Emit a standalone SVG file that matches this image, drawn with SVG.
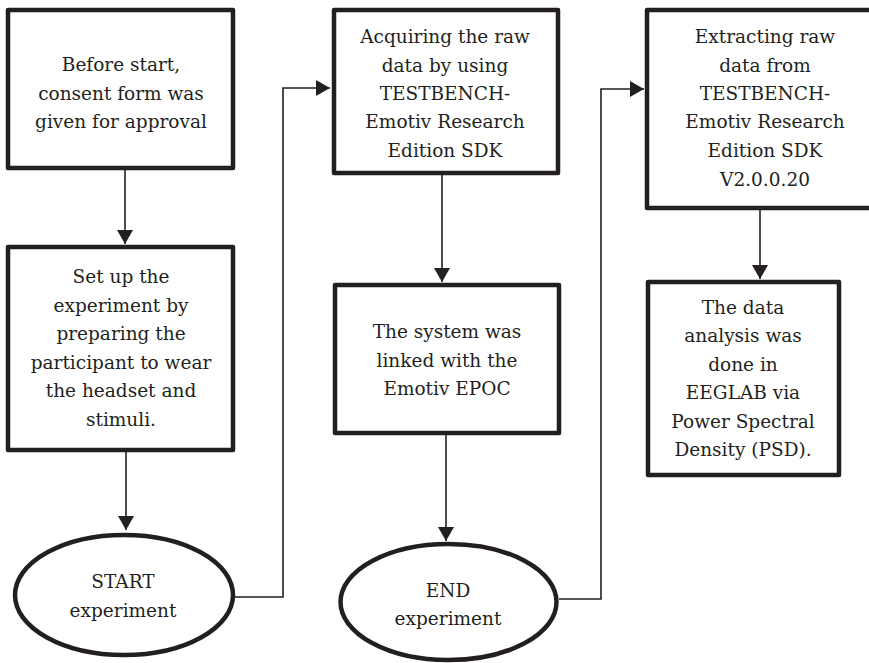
<svg xmlns="http://www.w3.org/2000/svg" width="869" height="663" viewBox="0 0 869 663">
<style>
.box{fill:#fff;stroke:#231f20;stroke-width:4.5;stroke-linejoin:round}
.conn{fill:none;stroke:#231f20;stroke-width:1.6}
text{font-family:"DejaVu Serif","Liberation Serif","Times New Roman",serif;font-size:18.5px;fill:#231f20;text-anchor:middle}
</style>
<defs>
<marker id="ah" viewBox="0 0 14 16" refX="14" refY="8" markerWidth="14" markerHeight="16" markerUnits="userSpaceOnUse" orient="auto">
<path d="M0,0 L14,8 L0,16 Z" fill="#231f20"/>
</marker>
</defs>
<g id="connectors">
<line class="conn" x1="125" y1="170" x2="125" y2="244" marker-end="url(#ah)"/>
<line class="conn" x1="126" y1="452" x2="126" y2="530" marker-end="url(#ah)"/>
<polyline class="conn" points="235,597 283,597 283,88 330,88" marker-end="url(#ah)"/>
<line class="conn" x1="442" y1="175" x2="442" y2="282" marker-end="url(#ah)"/>
<line class="conn" x1="446" y1="435" x2="446" y2="541" marker-end="url(#ah)"/>
<polyline class="conn" points="559,599 601,599 601,89 644,89" marker-end="url(#ah)"/>
<line class="conn" x1="760" y1="210" x2="760" y2="279" marker-end="url(#ah)"/>
</g>
<g id="n1">
<rect class="box" x="8" y="10" width="225" height="158"/>
<text x="121" y="71">Before start,</text>
<text x="121" y="100">consent form was</text>
<text x="121" y="128">given for approval</text>
</g>
<g id="n2">
<rect class="box" x="8" y="247" width="225" height="203"/>
<text x="121" y="283">Set up the</text>
<text x="121" y="311.5">experiment by</text>
<text x="121" y="340">preparing the</text>
<text x="121" y="368.5">participant to wear</text>
<text x="121" y="397">the headset and</text>
<text x="121" y="425.5">stimuli.</text>
</g>
<g id="n3">
<ellipse class="box" cx="124" cy="595" rx="109" ry="60"/>
<text x="123" y="588">START</text>
<text x="123" y="617">experiment</text>
</g>
<g id="n4">
<rect class="box" x="334" y="10" width="224" height="163"/>
<text x="445" y="43">Acquiring the raw</text>
<text x="445" y="72">data by using</text>
<text x="445" y="100">TESTBENCH-</text>
<text x="445" y="128">Emotiv Research</text>
<text x="445" y="157">Edition SDK</text>
</g>
<g id="n5">
<rect class="box" x="335" y="285" width="224" height="148"/>
<text x="447" y="338">The system was</text>
<text x="447" y="367">linked with the</text>
<text x="447" y="395">Emotiv EPOC</text>
</g>
<g id="n6">
<ellipse class="box" cx="448.5" cy="602" rx="108" ry="58"/>
<text x="448" y="597">END</text>
<text x="448" y="625">experiment</text>
</g>
<g id="n7">
<rect class="box" x="647" y="10" width="226" height="198"/>
<text x="765" y="43">Extracting raw</text>
<text x="765" y="72">data from</text>
<text x="765" y="100">TESTBENCH-</text>
<text x="765" y="128">Emotiv Research</text>
<text x="765" y="157">Edition SDK</text>
<text x="765" y="186">V2.0.0.20</text>
</g>
<g id="n8">
<rect class="box" x="648" y="282" width="191" height="193"/>
<text x="743" y="314">The data</text>
<text x="743" y="342">analysis was</text>
<text x="743" y="371">done in</text>
<text x="743" y="399">EEGLAB via</text>
<text x="743" y="428">Power Spectral</text>
<text x="743" y="456">Density (PSD).</text>
</g>
</svg>
